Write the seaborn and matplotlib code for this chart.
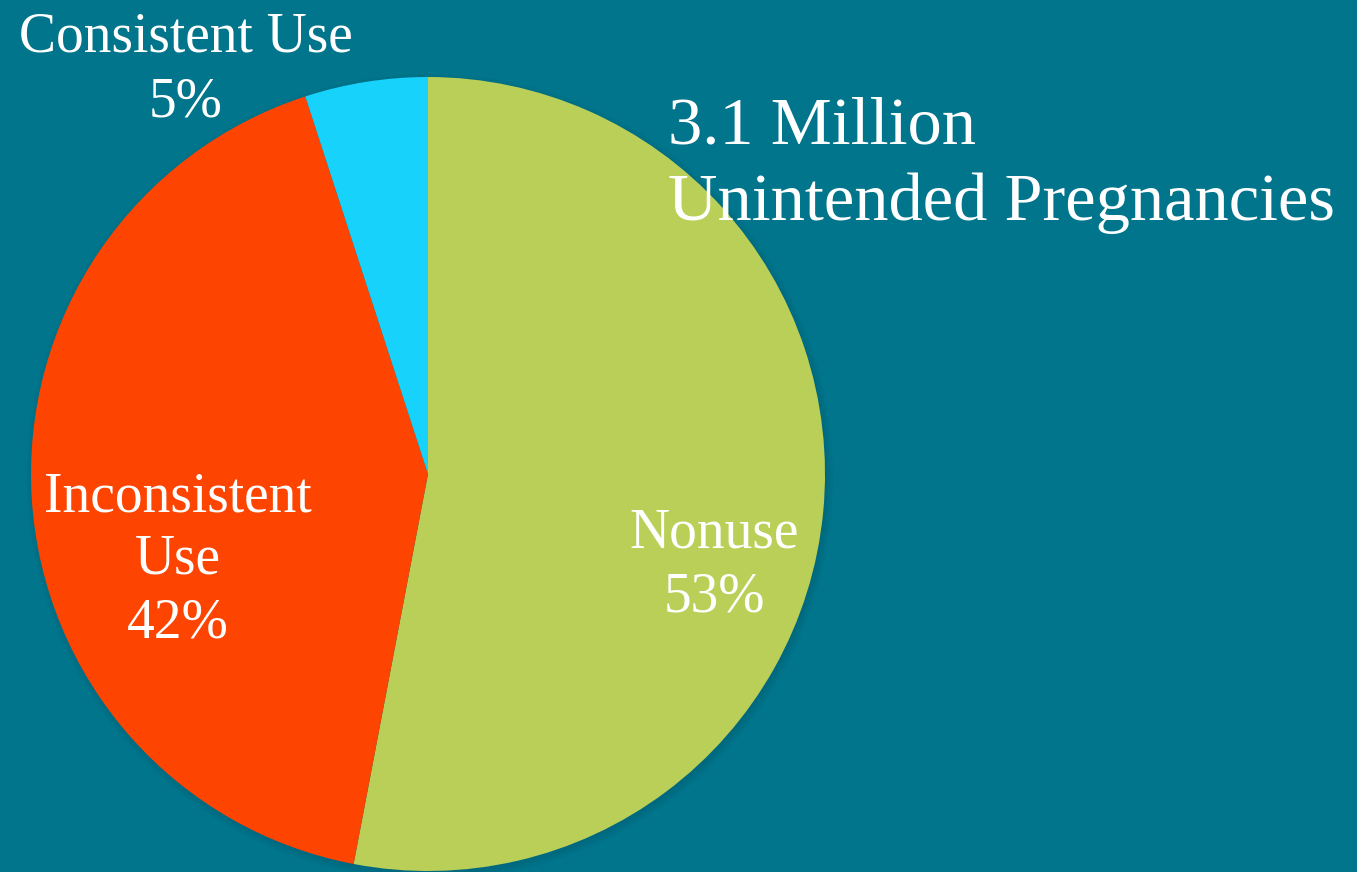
import matplotlib
matplotlib.use("Agg")
import matplotlib.pyplot as plt
import seaborn as sns

# Outcome shares of unintended pregnancies by contraceptive use
categories = ["Nonuse", "Inconsistent Use", "Consistent Use"]
shares = [53, 42, 5]
colors = ["#BACF57", "#FE4401", "#17D3FB"]
title_lines = ["3.1 Million", "Unintended Pregnancies"]

BG = "#01758B"

sns.set_theme(style="white", rc={"figure.facecolor": BG, "axes.facecolor": BG})
plt.rcParams["font.family"] = ["Liberation Serif", "DejaVu Serif"]

W, H = 1357, 872
fig = plt.figure(figsize=(W / 100, H / 100), dpi=100)
ax = fig.add_axes([0, 0, 1, 1])
ax.set_facecolor(BG)

cx, cy, r = 428, H - 474, 397

# soft shadow behind the pie
for i, a in enumerate([0.05, 0.05, 0.05, 0.06]):
    ax.add_patch(plt.Circle((cx + 2, cy - 3), r + 6 - i * 2, color="#00465a",
                            alpha=a, lw=0, zorder=0))

ax.pie(shares, colors=colors, startangle=90, counterclock=False,
       center=(cx, cy), radius=r, frame=True,
       wedgeprops=dict(linewidth=0))

ax.set_xlim(0, W)
ax.set_ylim(0, H)
ax.set_aspect("equal")
ax.axis("off")


def lines_at(x, baselines, texts, size, ha="center"):
    for y, t in zip(baselines, texts):
        ax.text(x, H - y, t, ha=ha, va="baseline", fontsize=size,
                color="white")


lab = 40
lines_at(186, [51, 116], ["Consistent Use", f"{shares[2]}%"], lab)
lines_at(178, [512, 574, 637], ["Inconsistent", "Use", f"{shares[1]}%"], lab)
lines_at(714, [548, 612], ["Nonuse", f"{shares[0]}%"], lab)
lines_at(668, [143, 220], title_lines, 49.3, ha="left")

fig.savefig("out.png", dpi=100, facecolor=BG)
